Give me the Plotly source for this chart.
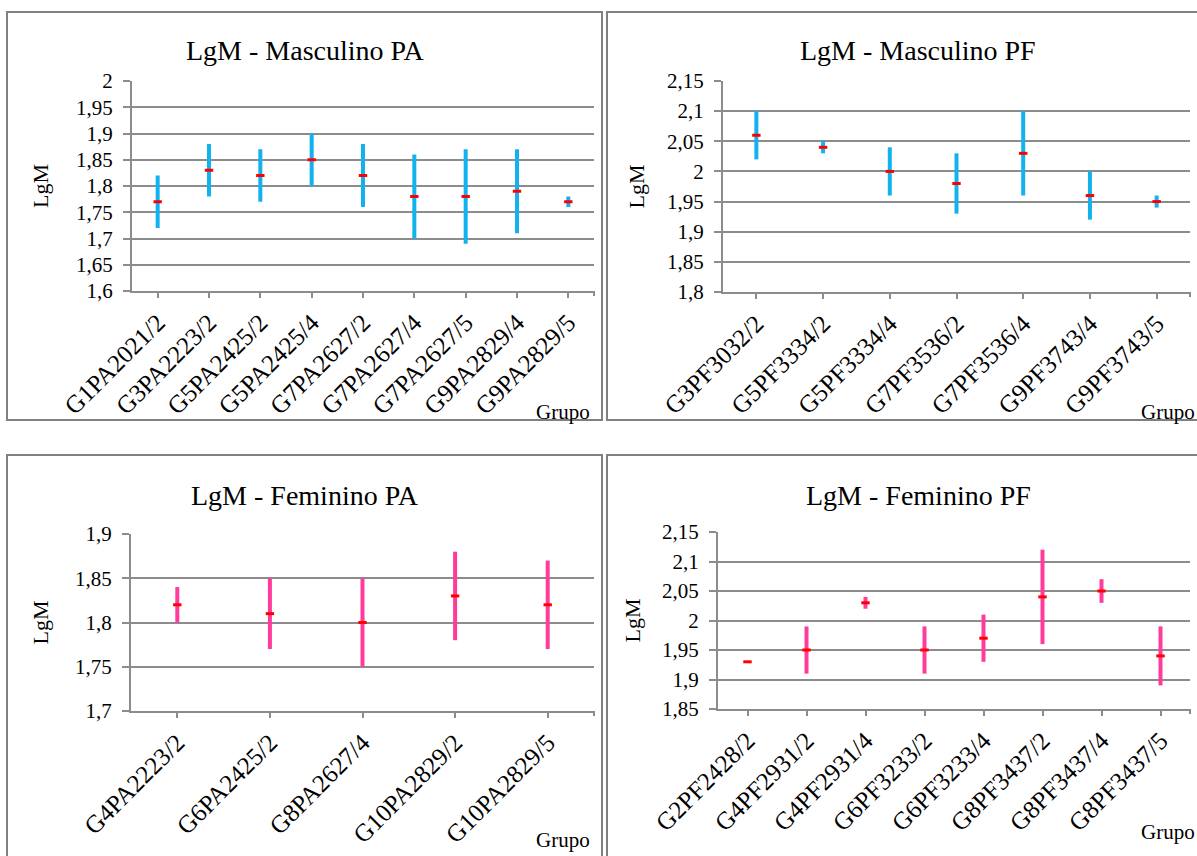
import plotly.graph_objects as go

# ---------------- data ----------------
mpa_groups = ["G1PA2021/2", "G3PA2223/2", "G5PA2425/2", "G5PA2425/4", "G7PA2627/2",
              "G7PA2627/4", "G7PA2627/5", "G9PA2829/4", "G9PA2829/5"]
mpa_mean = [1.77, 1.83, 1.82, 1.85, 1.82, 1.78, 1.78, 1.79, 1.77]
mpa_low = [1.72, 1.78, 1.77, 1.80, 1.76, 1.70, 1.69, 1.71, 1.76]
mpa_high = [1.82, 1.88, 1.87, 1.90, 1.88, 1.86, 1.87, 1.87, 1.78]

mpf_groups = ["G3PF3032/2", "G5PF3334/2", "G5PF3334/4", "G7PF3536/2", "G7PF3536/4",
              "G9PF3743/4", "G9PF3743/5"]
mpf_mean = [2.06, 2.04, 2.00, 1.98, 2.03, 1.96, 1.95]
mpf_low = [2.02, 2.03, 1.96, 1.93, 1.96, 1.92, 1.94]
mpf_high = [2.10, 2.05, 2.04, 2.03, 2.10, 2.00, 1.96]

fpa_groups = ["G4PA2223/2", "G6PA2425/2", "G8PA2627/4", "G10PA2829/2", "G10PA2829/5"]
fpa_mean = [1.82, 1.81, 1.80, 1.83, 1.82]
fpa_low = [1.80, 1.77, 1.75, 1.78, 1.77]
fpa_high = [1.84, 1.85, 1.85, 1.88, 1.87]

fpf_groups = ["G2PF2428/2", "G4PF2931/2", "G4PF2931/4", "G6PF3233/2", "G6PF3233/4",
              "G8PF3437/2", "G8PF3437/4", "G8PF3437/5"]
fpf_mean = [1.93, 1.95, 2.03, 1.95, 1.97, 2.04, 2.05, 1.94]
fpf_low = [1.93, 1.91, 2.02, 1.91, 1.93, 1.96, 2.03, 1.89]
fpf_high = [1.93, 1.99, 2.04, 1.99, 2.01, 2.12, 2.07, 1.99]

titles = ["LgM - Masculino PA", "LgM - Masculino PF", "LgM - Feminino PA", "LgM - Feminino PF"]
y_ticks_mpa = ["1,6", "1,65", "1,7", "1,75", "1,8", "1,85", "1,9", "1,95", "2"]
y_ticks_mpf = ["1,8", "1,85", "1,9", "1,95", "2", "2,05", "2,1", "2,15"]
y_ticks_fpa = ["1,7", "1,75", "1,8", "1,85", "1,9"]
y_ticks_fpf = ["1,85", "1,9", "1,95", "2", "2,05", "2,1", "2,15"]
x_title = "Grupo"
y_title = "LgM"

# ---------------- styling / layout ----------------
W, H = 1197, 856
FONT = "Liberation Serif"
CYAN = "#12B2EE"
PINK = "#FF3B9C"
GRID = "#8C8C8C"


def px(x):
    return x / W


def py(y):
    return 1 - y / H


panels = [
    dict(groups=mpa_groups, mean=mpa_mean, low=mpa_low, high=mpa_high, yt=y_ticks_mpa,
         color=CYAN, plot=(132, 594, 81, 291), border=(7, 602, 12, 420), title_xy=(305, 50),
         ytitle_x=40, grupo_xy=(592, 412)),
    dict(groups=mpf_groups, mean=mpf_mean, low=mpf_low, high=mpf_high, yt=y_ticks_mpf,
         color=CYAN, plot=(723, 1190, 81, 292), border=(607, 1230, 12, 420), title_xy=(918, 50),
         ytitle_x=636, grupo_xy=(1197, 412)),
    dict(groups=fpa_groups, mean=fpa_mean, low=fpa_low, high=fpa_high, yt=y_ticks_fpa,
         color=PINK, plot=(131, 594, 534, 711), border=(7, 602, 455, 900), title_xy=(305, 496),
         ytitle_x=40, grupo_xy=(592, 840)),
    dict(groups=fpf_groups, mean=fpf_mean, low=fpf_low, high=fpf_high, yt=y_ticks_fpf,
         color=PINK, plot=(718, 1190, 532, 709), border=(607, 1230, 455, 900), title_xy=(918, 496),
         ytitle_x=632, grupo_xy=(1197, 832)),
]

fig = go.Figure()
shapes = []
annotations = []

for i, p in enumerate(panels):
    k = "" if i == 0 else str(i + 1)
    xa, ya = "x" + k, "y" + k
    n = len(p["groups"])
    bx, by = [], []
    for g, lo, hi in zip(p["groups"], p["low"], p["high"]):
        bx += [g, g, None]
        by += [lo, hi, None]
    fig.add_trace(go.Scatter(x=bx, y=by, mode="lines", xaxis=xa, yaxis=ya,
                             line=dict(color=p["color"], width=4),
                             showlegend=False, hoverinfo="skip"))
    fig.add_trace(go.Scatter(x=p["groups"], y=p["mean"], mode="markers", xaxis=xa, yaxis=ya,
                             marker=dict(symbol="line-ew", size=6,
                                         line=dict(color="#FF0000", width=3)),
                             showlegend=False))
    x0, x1, y0, y1 = p["plot"]
    fig.layout["xaxis" + k] = dict(
        domain=[px(x0), px(x1)], anchor=ya, type="category", automargin=False,
        categoryorder="array", categoryarray=p["groups"],
        range=[-0.5, n - 0.5], showgrid=False, showline=True, linecolor=GRID, linewidth=2,
        ticks="outside", ticklen=5, tickwidth=2, tickcolor=GRID, tickangle=-45,
        tickfont=dict(family=FONT, size=25, color="black"), zeroline=False, fixedrange=True)
    yvals = [float(t.replace(",", ".")) for t in p["yt"]]
    fig.layout["yaxis" + k] = dict(
        domain=[py(y1), py(y0)], anchor=xa, range=[yvals[0], yvals[-1]], automargin=False,
        tickmode="array", tickvals=yvals, ticktext=p["yt"],
        showgrid=True, gridcolor=GRID, gridwidth=2, showline=True, linecolor=GRID, linewidth=2,
        ticks="outside", ticklen=7, tickwidth=2, tickcolor=GRID, ticklabelstandoff=6,
        tickfont=dict(family=FONT, size=21, color="black"), zeroline=False, fixedrange=True)
    shapes.append(dict(type="line", xref="paper", yref="paper",
                       x0=px(x1), x1=px(x1), y0=py(y1), y1=py(y1 + 5),
                       line=dict(color=GRID, width=2)))
    bx0, bx1, by0, by1 = p["border"]
    shapes.append(dict(type="rect", xref="paper", yref="paper",
                       x0=px(bx0), x1=px(bx1), y0=py(by1), y1=py(by0),
                       line=dict(color="#808080", width=2), fillcolor="rgba(0,0,0,0)"))
    tx, ty = p["title_xy"]
    annotations.append(dict(text=titles[i], x=px(tx), y=py(ty), xref="paper", yref="paper",
                            showarrow=False, xanchor="center", yanchor="middle",
                            font=dict(family=FONT, size=28, color="black")))
    annotations.append(dict(text=y_title, x=px(p["ytitle_x"]), y=py((y0 + y1) / 2),
                            xref="paper", yref="paper", showarrow=False, textangle=-90,
                            xanchor="center", yanchor="middle",
                            font=dict(family=FONT, size=22, color="black")))
    gx, gy = p["grupo_xy"]
    annotations.append(dict(text=x_title, x=px(gx), y=py(gy), xref="paper", yref="paper",
                            showarrow=False, xanchor="right", yanchor="middle",
                            font=dict(family=FONT, size=21, color="black")))

fig.update_layout(width=W, height=H, margin=dict(l=0, r=0, t=0, b=0, autoexpand=False),
                  template="none", font=dict(family=FONT, color="black"),
                  paper_bgcolor="white", plot_bgcolor="white", separators=",.",
                  shapes=shapes, annotations=annotations, showlegend=False)

fig.write_html("out.html", config={"displayModeBar": False},
               post_script="document.body.style.margin='0px';")
